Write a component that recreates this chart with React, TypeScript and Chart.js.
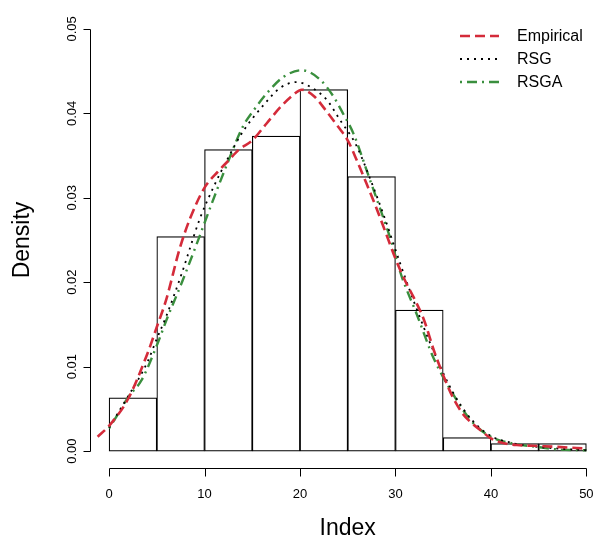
import React, { useEffect, useRef } from "react";
import { Chart, registerables } from "chart.js";

Chart.register(...registerables);

// Histogram bins (start of each 5-wide bin) and densities
const binStarts = [0, 5, 10, 15, 20, 25, 30, 35, 40, 45];
const binWidth = 5;
const binDensity = [0.0063, 0.0254, 0.0357, 0.0373, 0.0428, 0.0325, 0.0167, 0.0016, 0.0009, 0.0009];

// Empirical density curve
const empiricalX = [-1.2, 0, 2, 4, 5, 6, 7.4, 8.5, 10, 11.4, 12.5, 13.6, 15, 16.5, 18, 19.2, 20.2, 21.5, 22.8, 24, 25, 26, 27, 28, 29, 30, 31, 32, 33, 34, 35, 36, 37, 38, 39, 40, 41.5, 43, 45, 47, 50];
const empiricalY = [0.0017, 0.003, 0.0062, 0.0115, 0.0147, 0.018, 0.024, 0.0276, 0.0312, 0.0331, 0.0344, 0.0357, 0.0368, 0.0388, 0.0408, 0.0421, 0.0428, 0.042, 0.0402, 0.0384, 0.0368, 0.0343, 0.0316, 0.0288, 0.0258, 0.0228, 0.0202, 0.018, 0.0155, 0.012, 0.009, 0.0064, 0.0045, 0.0033, 0.0024, 0.0015, 0.0009, 0.0007, 0.0006, 0.0005, 0.0003];

// RSG curve
const rsgX = [0, 2, 4, 5, 6, 7.6, 9.5, 10.75, 12.5, 14, 16.2, 17.9, 19.65, 21, 22.8, 24.2, 25.9, 27.5, 29, 30.5, 32, 34, 36, 38, 40, 42.5, 45, 47, 50];
const rsgY = [0.0028, 0.0065, 0.0105, 0.0133, 0.016, 0.021, 0.0275, 0.0308, 0.0348, 0.0378, 0.041, 0.043, 0.0437, 0.0432, 0.0416, 0.0392, 0.0362, 0.0318, 0.0272, 0.0222, 0.0175, 0.0118, 0.007, 0.0037, 0.0018, 0.0009, 0.0005, 0.0003, 0.0001];

// RSGA curve
const rsgaX = [0, 1, 2, 3.4, 5.1, 6, 7.6, 9.2, 10.75, 12.4, 14, 15.3, 16.7, 18.25, 20.2, 22.1, 23.5, 24.5, 25.6, 27.15, 28.55, 29.4, 30.65, 32.2, 34, 36, 38, 40, 42.3, 44.8, 47, 50];
const rsgaY = [0.0027, 0.0045, 0.0064, 0.0084, 0.0128, 0.0155, 0.0199, 0.0246, 0.0293, 0.0341, 0.0384, 0.0406, 0.0426, 0.0443, 0.0451, 0.044, 0.042, 0.04, 0.0376, 0.0327, 0.0282, 0.0254, 0.0207, 0.0163, 0.011, 0.0068, 0.0035, 0.0017, 0.0009, 0.0005, 0.0002, 0.0001];

const xTicks = [0, 10, 20, 30, 40, 50];
const yTicks = [0, 0.01, 0.02, 0.03, 0.04, 0.05];
const yTickLabels = ["0.00", "0.01", "0.02", "0.03", "0.04", "0.05"];
const legendLabels = ["Empirical", "RSG", "RSGA"];
const xTitle = "Index";
const yTitle = "Density";

const RED = "#d42b3a";
const GREEN = "#3a8f3e";
const BLACK = "#000000";
const FONT = "'Liberation Sans', Arial, Helvetica, sans-serif";

const lineStyles = [
  { color: RED, dash: [10, 5], width: 2.6 },
  { color: BLACK, dash: [2, 5], width: 1.8 },
  { color: GREEN, dash: [2, 5, 10, 5], width: 2.4 },
];

const zip = (xs: number[], ys: number[]) => xs.map((x, i) => ({ x, y: ys[i] }));

const axesPlugin = {
  id: "rAxes",
  afterDraw(chart: any) {
    const ctx = chart.ctx as CanvasRenderingContext2D;
    const xs = chart.scales.x;
    const ys = chart.scales.y;
    const area = chart.chartArea;
    ctx.save();
    ctx.strokeStyle = "#000";
    ctx.fillStyle = "#000";
    ctx.lineWidth = 1;

    // Y axis
    const ax = Math.round(area.left) + 0.5;
    const y0 = ys.getPixelForValue(yTicks[0]);
    const y1 = ys.getPixelForValue(yTicks[yTicks.length - 1]);
    ctx.beginPath();
    ctx.moveTo(ax, Math.round(y0) + 0.5);
    ctx.lineTo(ax, Math.round(y1) + 0.5);
    yTicks.forEach((t) => {
      const py = Math.round(ys.getPixelForValue(t)) + 0.5;
      ctx.moveTo(ax, py);
      ctx.lineTo(ax - 7, py);
    });
    ctx.stroke();
    ctx.font = `13px ${FONT}`;
    ctx.textAlign = "center";
    ctx.textBaseline = "middle";
    yTicks.forEach((t, i) => {
      const py = ys.getPixelForValue(t);
      ctx.save();
      ctx.translate(ax - 18, py);
      ctx.rotate(-Math.PI / 2);
      ctx.fillText(yTickLabels[i], 0, 0);
      ctx.restore();
    });

    // X axis
    const ay = Math.round(area.bottom) + 0.5;
    const x0 = xs.getPixelForValue(xTicks[0]);
    const x1 = xs.getPixelForValue(xTicks[xTicks.length - 1]);
    ctx.beginPath();
    ctx.moveTo(Math.round(x0) + 0.5, ay);
    ctx.lineTo(Math.round(x1) + 0.5, ay);
    xTicks.forEach((t) => {
      const px = Math.round(xs.getPixelForValue(t)) + 0.5;
      ctx.moveTo(px, ay);
      ctx.lineTo(px, ay + 8);
    });
    ctx.stroke();
    xTicks.forEach((t) => {
      ctx.fillText(String(t), xs.getPixelForValue(t), ay + 26);
    });

    // Titles
    ctx.font = `23px ${FONT}`;
    const cx = (area.left + xs.getPixelForValue(52)) / 2;
    ctx.fillText(xTitle, cx, 529);
    ctx.save();
    ctx.translate(23, (area.top + area.bottom) / 2);
    ctx.rotate(-Math.PI / 2);
    ctx.fillText(yTitle, 0, 0);
    ctx.restore();

    // Legend
    ctx.font = `16px ${FONT}`;
    ctx.textAlign = "left";
    legendLabels.forEach((lab, i) => {
      const ly = 36 + i * 23;
      const st = lineStyles[i];
      ctx.save();
      ctx.strokeStyle = st.color;
      ctx.lineWidth = st.width;
      ctx.setLineDash(st.dash);
      ctx.beginPath();
      ctx.moveTo(460, ly);
      ctx.lineTo(499, ly);
      ctx.stroke();
      ctx.restore();
      ctx.fillStyle = "#000";
      ctx.fillText(lab, 517, ly + 1);
    });
    ctx.restore();
  },
};

export default function App() {
  const ref = useRef<HTMLCanvasElement | null>(null);
  useEffect(() => {
    if (!ref.current) return;
    const series = [
      { label: legendLabels[0], xs: empiricalX, ys: empiricalY, order: 1 },
      { label: legendLabels[1], xs: rsgX, ys: rsgY, order: 2 },
      { label: legendLabels[2], xs: rsgaX, ys: rsgaY, order: 3 },
    ];
    const chart = new Chart(ref.current, {
      type: "bar",
      data: {
        datasets: [
          {
            type: "bar",
            label: "hist",
            data: binStarts.map((s, i) => ({ x: s + binWidth / 2, y: binDensity[i] })),
            backgroundColor: "#ffffff",
            borderColor: "#000000",
            borderWidth: 1.2,
            borderSkipped: false,
            barPercentage: 1,
            categoryPercentage: 1,
            order: 10,
          } as any,
          ...series.map((s, i) => ({
            type: "line",
            label: s.label,
            data: zip(s.xs, s.ys),
            borderColor: lineStyles[i].color,
            borderWidth: lineStyles[i].width,
            borderDash: lineStyles[i].dash,
            borderCapStyle: "butt",
            pointRadius: 0,
            fill: false,
            cubicInterpolationMode: "monotone",
            order: s.order,
          } as any)),
        ],
      },
      options: {
        animation: false,
        responsive: false,
        maintainAspectRatio: false,
        layout: { padding: { left: 90, top: 12, right: 0, bottom: 73 } },
        plugins: { legend: { display: false }, tooltip: { enabled: false } },
        scales: {
          x: { type: "linear", min: -2, max: 50.8, offset: false, display: false },
          y: { type: "linear", min: -0.002, max: 0.052, display: false },
        },
      },
      plugins: [axesPlugin],
    });
    return () => chart.destroy();
  }, []);
  return (
    <div style={{ position: "fixed", left: 0, top: 0, width: 594, height: 541, background: "#fff" }}>
      <canvas ref={ref} width={594} height={541} style={{ width: 594, height: 541, display: "block" }} />
    </div>
  );
}
